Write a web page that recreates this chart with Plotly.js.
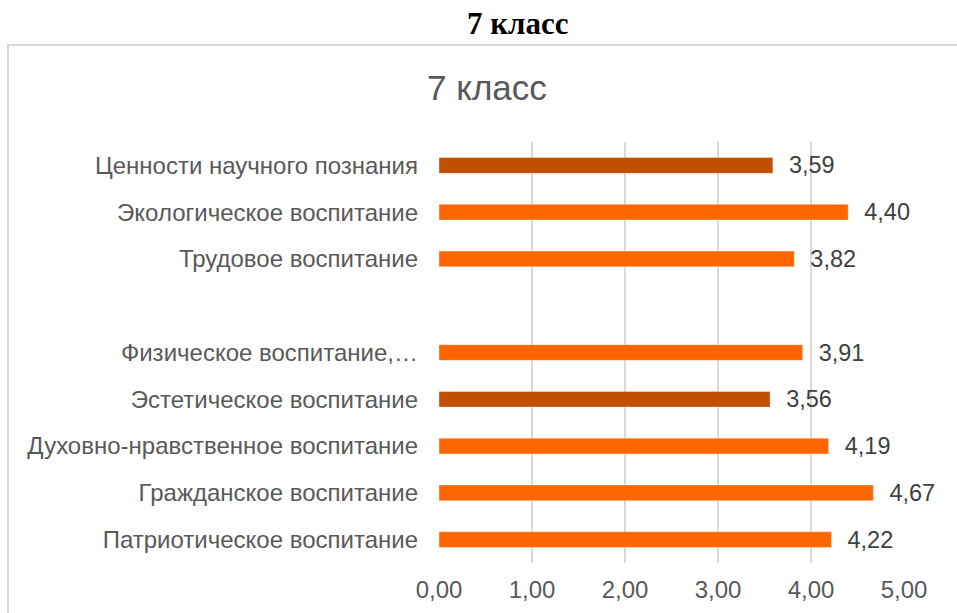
<!DOCTYPE html>
<html>
<head>
<meta charset="utf-8">
<script src="https://cdn.plot.ly/plotly-3.0.1.min.js"></script>
<style>html,body{margin:0;padding:0;background:#fff;}</style>
</head>
<body>
<div id="chart" style="width:957px;height:613px;"></div>
<script>
// Categories listed bottom-to-top (Plotly draws the first category at the bottom)
const categories = [
  "Патриотическое воспитание",
  "Гражданское воспитание",
  "Духовно-нравственное воспитание",
  "Эстетическое воспитание",
  "Физическое воспитание,…",
  " ",
  "Трудовое воспитание",
  "Экологическое воспитание",
  "Ценности научного познания"
];
const values = [4.22, 4.67, 4.19, 3.56, 3.91, null, 3.82, 4.40, 3.59];
const highlighted = [false, false, false, true, false, false, false, false, true];
const xTicks = [0, 1, 2, 3, 4, 5];
const chartTitle = "7 класс";
const pageTitle = "7 класс";

const ORANGE = "#FF6600";
const DARK = "#C05000";

// plot-area pixel geometry (for placing paper-referenced decorations)
const W = 957, H = 613, L = 439, R = 904, T = 142, B = 563;
const px2x = p => (p - L) / (R - L);
const py2y = p => (B - p) / (B - T);

const trace = {
  type: "bar",
  orientation: "h",
  y: categories,
  x: values,
  marker: {
    color: highlighted.map(h => h ? DARK : ORANGE),
    line: {color: "rgba(255,255,255,0.35)", width: 1}
  },
  texttemplate: "  %{x:.2f}",
  textposition: "outside",
  constraintext: "none",
  cliponaxis: false,
  textfont: {family: "Liberation Sans, Arial, sans-serif", size: 23.5, color: "#404040"},
  hoverinfo: "skip"
};

const layout = {
  width: W, height: H,
  margin: {l: L, r: W - R, t: T, b: H - B, pad: 0},
  paper_bgcolor: "#fff",
  plot_bgcolor: "#fff",
  separators: ", ",
  showlegend: false,
  bargap: 0.665,
  font: {family: "Liberation Sans, Arial, sans-serif", color: "#595959"},
  xaxis: {
    range: [0, 5],
    tickvals: xTicks,
    tickformat: ".2f",
    showgrid: true,
    gridcolor: "#d9d9d9",
    gridwidth: 1.5,
    zeroline: false,
    showline: false,
    ticks: "",
    ticklabelstandoff: 10,
    tickfont: {size: 24, color: "#595959"},
    fixedrange: true,
    automargin: false
  },
  yaxis: {
    type: "category",
    categoryorder: "array",
    categoryarray: categories,
    showgrid: false,
    zeroline: false,
    showline: false,
    ticks: "",
    ticklabelstandoff: 20,
    tickfont: {size: 24, color: "#595959"},
    fixedrange: true,
    automargin: false
  },
  shapes: [{
    type: "rect", xref: "paper", yref: "paper", layer: "below",
    x0: px2x(8), x1: px2x(975), y0: py2y(660), y1: py2y(45),
    line: {color: "#d9d9d9", width: 2}, fillcolor: "rgba(0,0,0,0)"
  }],
  annotations: [
    {
      text: "<b>" + pageTitle + "</b>", xref: "paper", yref: "paper",
      x: px2x(518), y: py2y(24), xanchor: "center", yanchor: "middle",
      showarrow: false,
      font: {family: "Liberation Serif, Times New Roman, serif", size: 31, color: "#000"}
    },
    {
      text: chartTitle, xref: "paper", yref: "paper",
      x: px2x(487), y: py2y(87), xanchor: "center", yanchor: "middle",
      showarrow: false,
      font: {family: "Liberation Sans, Arial, sans-serif", size: 35, color: "#595959"}
    }
  ]
};

Plotly.newPlot("chart", [trace], layout, {displayModeBar: false, staticPlot: true});
</script>
</body>
</html>
